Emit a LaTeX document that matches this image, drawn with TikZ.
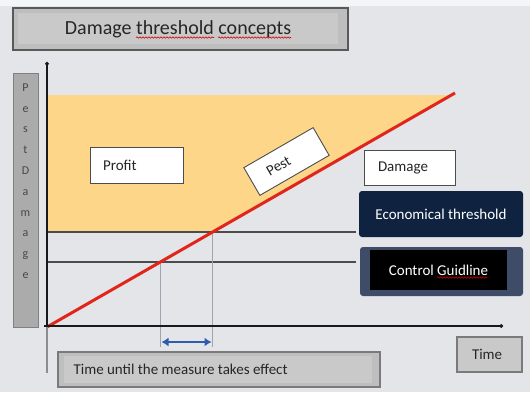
\documentclass[tikz,border=0pt]{standalone}
\usepackage{fontspec}
\setmainfont{Carlito}
\usetikzlibrary{arrows.meta,decorations.pathmorphing}
\definecolor{bgc}{HTML}{E3E5E8}
\definecolor{profitfill}{HTML}{FDD68A}
\definecolor{pestred}{HTML}{E1251B}
\definecolor{navybox}{HTML}{0F2341}
\definecolor{slatebox}{HTML}{3E4C68}
\definecolor{guidec}{HTML}{9EA4B4}
\definecolor{arrowblue}{HTML}{2D5DAE}
\definecolor{greybox}{HTML}{BEBEBE}
\definecolor{greyinner}{HTML}{C9C9C9}
\definecolor{greyedge}{HTML}{7A7A7A}
\tikzset{
  body/.style={font=\fontsize{15}{18}\selectfont, text=black!85},
  whitebox/.style={draw=black!70, line width=0.9pt, fill=white, body, inner sep=0pt},
  axisline/.style={line width=2pt, black!90},
  thrline/.style={line width=1.6pt, black!70},
  guideline/.style={line width=0.7pt, guidec},
  pestline/.style={line width=3pt, pestred},
  spell/.style={red!80!black, line width=0.6pt, decorate, decoration={snake, amplitude=0.7pt, segment length=3pt}},
  greyframe/.style={fill=greybox, draw=greyedge, line width=1.2pt},
}
\begin{document}
\begin{tikzpicture}[x=1pt,y=-1pt]
\useasboundingbox (0,0) rectangle (530,392);
\fill[bgc] (0,0) rectangle (530,392);
\fill[white!60!bgc] (0,0) rectangle (530,6);
% title
\filldraw[fill=greybox, draw=black!65, line width=1.2pt] (13,8) rectangle (348,50);
\fill[greyinner] (18,13) rectangle (338,44);
\node[font=\fontsize{20}{24}\selectfont, text=black!85] (title) at (178,29) {Damage threshold concepts};
\draw[spell] (136,37.5) -- (214,37.5);
\draw[spell] (218,37.5) -- (291,37.5);
% y label
\filldraw[fill=black!33, draw=black!50, line width=0.8pt] (13,73) rectangle (38,327);
\node[font=\fontsize{12}{20.8}\selectfont, text=black!72, align=center, anchor=north] (ylab) at (25.5,80) {P\\e\\s\\t\\D\\a\\m\\a\\g\\e};
% profit area
\fill[profitfill] (48,95) -- (451,95) -- (212.6,232) -- (48,232) -- cycle;
% threshold lines
\coordinate (ecoL) at (48,232);
\coordinate (ecoR) at (356,232);
\coordinate (ctlL) at (48,262);
\coordinate (ctlR) at (356,262);
\draw[thrline] (ecoL) -- (ecoR);
\draw[thrline] (ctlL) -- (ctlR);
% guides
\coordinate (ge) at (212.6,232);
\coordinate (gc) at (160.3,262);
\coordinate (geb) at (212.6,347);
\coordinate (gcb) at (160.3,347);
\draw[guideline] (ge) -- (geb);
\draw[guideline] (gc) -- (gcb);
% pest line
\coordinate (p0) at (47,327);
\coordinate (p1) at (455,93);
\draw[pestline] (p0) -- (p1);
% axes
\coordinate (o) at (47,327);
\coordinate (ybot) at (47,373);
\coordinate (ytop) at (47,62);
\coordinate (xstart) at (44,326);
\coordinate (xend) at (503,326);
\draw[black!45, line width=1.2pt] (o) -- (ybot);
\draw[axisline, -{Circle[length=3.5pt]}] (o) -- (ytop);
\draw[axisline, line width=2.4pt, -{Circle[length=3.5pt]}] (xstart) -- (xend);
% delay arrow
\coordinate (al) at (161.5,342);
\coordinate (ar) at (211.5,342);
\draw[arrowblue, line width=2.6pt, {Latex[length=7pt,width=9pt]}-{Latex[length=7pt,width=9pt]}] (al) -- (ar);
% boxes
\node[whitebox, minimum width=93pt, minimum height=36pt, text width=67pt, inner xsep=13pt, align=left] (profit) at (136.5,165) {Profit};
\node[whitebox, minimum height=32pt, text width=60pt, inner xsep=10pt, align=left, rotate=30] (pest) at (286.5,161.5) {\hspace*{8pt}Pest};
\node[whitebox, minimum width=91pt, minimum height=35pt, text width=63pt, inner xsep=14pt, align=left] (damage) at (409.5,167.5) {Damage};
\node[fill=navybox, rounded corners=3pt, minimum width=164pt, minimum height=46pt, body, text=white] (econ) at (441,214) {Economical threshold};
\node[fill=slatebox, rounded corners=3pt, minimum width=163pt, minimum height=49pt] (ctrlouter) at (441.5,271.5) {};
\node[fill=black, minimum width=137pt, minimum height=40pt, body, text=white] (ctrl) at (438.5,270) {Control Guidline};
\draw[spell] (437,277.5) -- (487,277.5);
% bottom boxes
\filldraw[greyframe] (58,352) rectangle (380,387);
\fill[greyinner] (64,356) rectangle (372,383);
\node[body, anchor=west] (tuntil) at (70,369.5) {Time until the measure takes effect};
\node[greyframe, fill=greyinner, minimum height=35pt, text width=35pt, inner xsep=15pt, align=left, body] (time) at (489.5,354.5) {Time};
\end{tikzpicture}
\end{document}
